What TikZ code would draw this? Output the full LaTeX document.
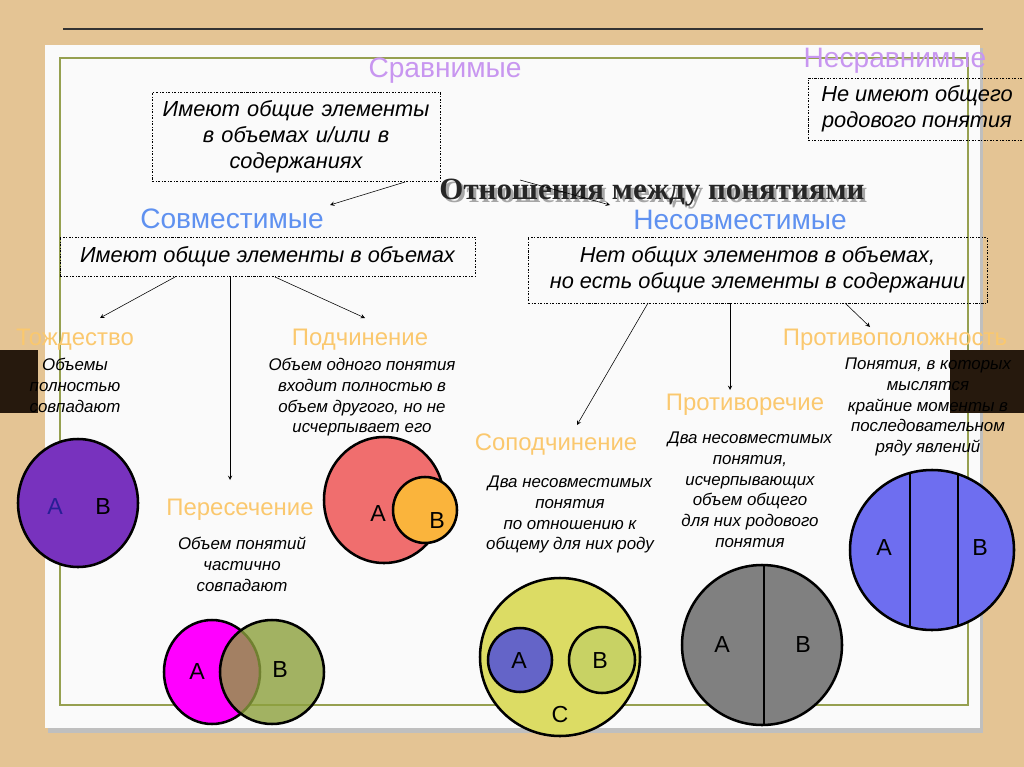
\documentclass[tikz,border=0pt]{standalone}
\usepackage{fontspec}
\setmainfont{Liberation Sans}
\newfontfamily\serifb{Liberation Serif}
\begin{document}
\begin{tikzpicture}[x=0.025cm,y=-0.025cm,
  every node/.style={inner sep=0pt,align=center},
  dbox/.style={draw,dash pattern=on 1.5pt off 1.2pt on 0.4pt off 1.2pt,thin},
  body/.style={font=\fontsize{12}{14.7}\selectfont\itshape},
  boxt/.style={font=\fontsize{15.5}{18.5}\selectfont\itshape},
  vio/.style={font=\fontsize{20}{24}\selectfont,text=violet1},
  blu/.style={font=\fontsize{20}{24}\selectfont,text=blue1},
  org/.style={font=\fontsize{17}{20}\selectfont,text=orange1},
  circ/.style={draw=black,line width=1.8pt},
  lab/.style={font=\fontsize{16.5}{18}\selectfont},
  arr/.style={-stealth,thin}]
\definecolor{wood}{RGB}{228,196,148}
\definecolor{violet1}{RGB}{200,150,240}
\definecolor{blue1}{RGB}{95,145,240}
\definecolor{orange1}{RGB}{250,200,110}
\definecolor{olive1}{RGB}{150,160,80}
\useasboundingbox (0,0) rectangle (1024,767);
\fill[wood] (0,0) rectangle (1024,767);
\draw[line width=0.8pt,black!80] (63,29) -- (983,29);
\fill[black!25] (48,48) rectangle (983,733);
\fill[white!96!gray] (45,45) rectangle (980,728);
\draw[olive1,line width=1pt] (60,58) rectangle (968,705);
\fill[black!80!brown] (0,350) rectangle (38,413);
\fill[black!80!brown] (950,350) rectangle (1024,413);
% headings
\node[vio] (sr) at (445,71) {Сравнимые};
\node[vio] (nsr) at (895,61) {Несравнимые};
\node[dbox,minimum width=7.2cm,minimum height=2.22cm,boxt,text width=6.9cm] (b1) at (296,137) {Имеют общие элементы\\ в объемах и/или в\\ содержаниях};
\node[dbox,anchor=north west,minimum width=5.6cm,minimum height=1.55cm] (b2) at (808,78) {};
\node[boxt,anchor=center] at (917,109) {Не имеют общего\\ родового понятия};
\node[font=\serifb\bfseries\fontsize{22}{26}\selectfont,text=black!35] at (655,196) {Отношения между понятиями};
\node[font=\serifb\bfseries\fontsize{22}{26}\selectfont,text=black!85] (title) at (652,193) {Отношения между понятиями};
\coordinate (t1) at (405,182); \coordinate (t2) at (330,205);
\coordinate (t3) at (520,180); \coordinate (t4) at (610,205);
\draw[arr] (t1) -- (t2);
\draw[arr] (t3) -- (t4);
\node[blu] (sov) at (232,219) {Совместимые};
\node[blu] (nsov) at (740,220) {Несовместимые};
\node[dbox,minimum width=10.375cm,minimum height=0.98cm,boxt] (b3) at (267.5,256.5) {Имеют общие элементы в объемах};
\node[dbox,minimum width=11.475cm,minimum height=1.65cm,boxt] (b4) at (757.5,270) {Нет общих элементов в объемах,\\ но есть общие элементы в содержании};
% arrows
\coordinate (a1) at (175,277); \coordinate (a1e) at (100,318);
\coordinate (a2) at (230,277); \coordinate (a2e) at (230,480);
\coordinate (a3) at (275,277); \coordinate (a3e) at (365,318);
\coordinate (a4) at (648,303); \coordinate (a4e) at (577,425);
\coordinate (a5) at (730,303); \coordinate (a5e) at (730,390);
\coordinate (a6) at (845,303); \coordinate (a6e) at (870,327);
\foreach \s/\e in {a1/a1e,a2/a2e,a3/a3e,a4/a4e,a5/a5e,a6/a6e} \draw[arr] (\s) -- (\e);
% labels
\node[org] (l1) at (75,340) {Тождество};
\node[org] (l2) at (360,340) {Подчинение};
\node[org] (l3) at (895,340) {Противоположность};
\node[org] (l4) at (745,405) {Противоречие};
\node[org] (l5) at (556,445) {Соподчинение};
\node[org] (l6) at (240,510) {Пересечение};
\node[body,anchor=north] at (75,358) {Объемы\\ полностью\\ совпадают};
\node[body,anchor=north] at (362,358) {Объем одного понятия\\ входит полностью в\\ объем другого, но не\\ исчерпывает его};
\node[body,anchor=north] at (928,358) {Понятия, в которых\\ мыслятся\\ крайние моменты в\\ последовательном\\ ряду явлений};
\node[body,anchor=north] at (750,432) {Два несовместимых\\ понятия,\\ исчерпывающих\\ объем общего\\ для них родового\\ понятия};
\node[body,anchor=north] at (570,476) {Два несовместимых\\ понятия\\ по отношению к\\ общему для них роду};
\node[body,anchor=north] at (242,537) {Объем понятий\\ частично\\ совпадают};
% circles
\draw[circ,fill={rgb,255:red,120;green,50;blue,190}] (78,503) ellipse [x radius=60,y radius=64];
\node[lab,text={rgb,255:red,40;green,30;blue,150}] at (55,507) {A};
\node[lab] at (103,507) {B};
\draw[circ,fill={rgb,255:red,240;green,110;blue,110}] (384,500) ellipse [x radius=60,y radius=63];
\draw[circ,fill={rgb,255:red,250;green,180;blue,60}] (425,510) ellipse [x radius=32,y radius=33];
\node[lab] at (378,514) {A}; \node[lab] at (437,521) {B};
\draw[circ,fill={rgb,255:red,255;green,0;blue,255}] (212,672) ellipse [x radius=48,y radius=52];
\draw[circ,fill={rgb,255:red,140;green,160;blue,60},fill opacity=0.8] (272,672) ellipse [x radius=52,y radius=52];
\node[lab] at (197,672) {A}; \node[lab] at (280,670) {B};
\draw[circ,fill={rgb,255:red,220;green,220;blue,100}] (560,657) ellipse [x radius=80,y radius=79];
\draw[circ,fill={rgb,255:red,100;green,100;blue,200}] (520,660) circle [radius=32];
\draw[circ,fill={rgb,255:red,200;green,210;blue,100}] (602,660) circle [radius=33];
\node[lab] at (519,661) {A}; \node[lab] at (600,661) {B}; \node[lab] at (560,715) {C};
\draw[circ,fill=black!50] (762,645) circle [radius=80];
\draw[line width=1.8pt] (764,565) -- (764,725);
\node[lab] at (722,645) {A}; \node[lab] at (803,645) {B};
\draw[circ,fill={rgb,255:red,110;green,110;blue,240}] (932,550) ellipse [x radius=82,y radius=80];
\draw[line width=1.8pt] (910,473) -- (910,627);
\draw[line width=1.8pt] (958,474) -- (958,626);
\node[lab] at (884,548) {A}; \node[lab] at (980,548) {B};
\end{tikzpicture}
\end{document}
